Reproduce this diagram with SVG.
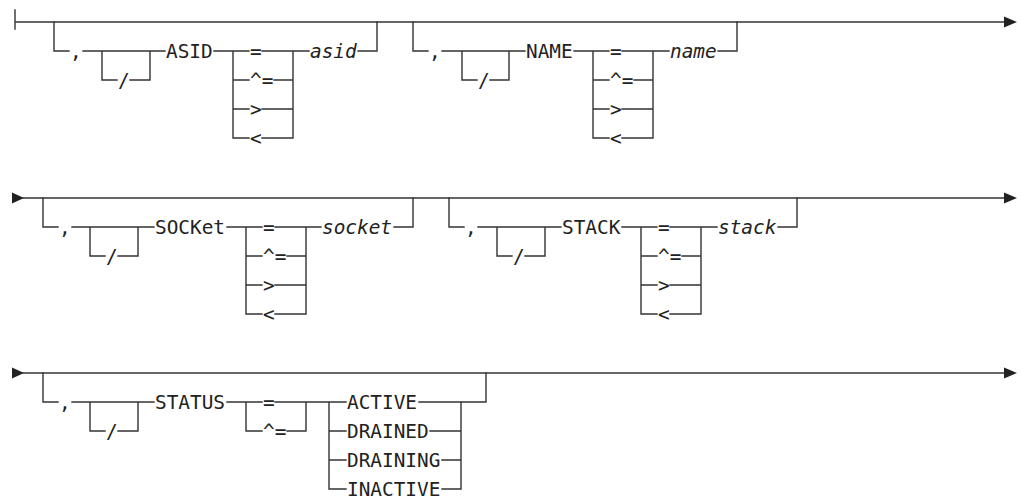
<svg xmlns="http://www.w3.org/2000/svg" width="1021" height="500" viewBox="0 0 1021 500">
<style>
.l{stroke:#333;stroke-width:1.4;fill:none;stroke-linecap:square}
.a{fill:#222;stroke:none}
text{font-family:"DejaVu Sans Mono","Liberation Mono",monospace;font-size:19.4px;fill:#222}
.i{font-style:italic}
</style>
<rect width="1021" height="500" fill="#fff"/>
<g id="connectors">
  <path class="l" d="M15 10V29M15 22H1006"/>
  <polygon class="a" points="1004,16.5 1017,22 1004,27.5"/>
  <polygon class="a" points="12,192.5 24,198 12,203.5"/>
  <path class="l" d="M23 198H1006"/>
  <polygon class="a" points="1004,192.5 1017,198 1004,203.5"/>
  <polygon class="a" points="12,367.5 24,373 12,378.5"/>
  <path class="l" d="M23 373H1006"/>
  <polygon class="a" points="1004,367.5 1017,373 1004,378.5"/>
</g>
<g id="asid">
  <path class="l" d="M54 22V51H69M83 51H165M102 51V80H117M130 80H150V51M214 51H249M233 51V138M262 51H293V138M233 80H249M274 80H293M233 109H249M262 109H293M233 138H249M262 138H293M293 51H309M358 51H377V22"/>
  <text x="70" y="58">,</text><text x="118" y="87">/</text>
  <text x="166" y="58">ASID</text>
  <text x="250" y="58">=</text><text x="250" y="87">^=</text><text x="250" y="116">&gt;</text><text x="250" y="145">&lt;</text>
  <text class="i" x="310" y="58">asid</text>
</g>
<g id="name">
  <path class="l" d="M413 22V51H428M442 51H525M462 51V80H477M490 80H509V51M574 51H609M593 51V138M622 51H653V138M593 80H609M634 80H653M593 109H609M622 109H653M593 138H609M622 138H653M653 51H669M718 51H737V22"/>
  <text x="429" y="58">,</text><text x="478" y="87">/</text>
  <text x="526" y="58">NAME</text>
  <text x="610" y="58">=</text><text x="610" y="87">^=</text><text x="610" y="116">&gt;</text><text x="610" y="145">&lt;</text>
  <text class="i" x="670" y="58">name</text>
</g>
<g id="socket">
  <path class="l" d="M43 198V227H58M72 227H154M90 227V256H105M118 256H138V227M227 227H262M246 227V314M275 227H306V314M246 256H262M287 256H306M246 285H262M275 285H306M246 314H262M275 314H306M306 227H321M394 227H413V198"/>
  <text x="59" y="234">,</text><text x="106" y="263">/</text>
  <text x="155" y="234">SOCKet</text>
  <text x="263" y="234">=</text><text x="263" y="263">^=</text><text x="263" y="292">&gt;</text><text x="263" y="321">&lt;</text>
  <text class="i" x="322" y="234">socket</text>
</g>
<g id="stack">
  <path class="l" d="M449 198V227H464M478 227H561M497 227V256H512M525 256H545V227M622 227H657M641 227V314M670 227H701V314M641 256H657M682 256H701M641 285H657M670 285H701M641 314H657M670 314H701M701 227H717M778 227H797V198"/>
  <text x="465" y="234">,</text><text x="513" y="263">/</text>
  <text x="562" y="234">STACK</text>
  <text x="658" y="234">=</text><text x="658" y="263">^=</text><text x="658" y="292">&gt;</text><text x="658" y="321">&lt;</text>
  <text class="i" x="718" y="234">stack</text>
</g>
<g id="status">
  <path class="l" d="M43 373V402H58M72 402H154M90 402V431H105M118 431H138V402M227 402H262M246 402V431H262M275 402H346M306 402V431H287M329 402V489M329 431H346M329 460H346M329 489H346M419 402H486V373M461 402V489M430 431H461M442 460H461M442 489H461"/>
  <text x="59" y="409">,</text><text x="106" y="438">/</text>
  <text x="155" y="409">STATUS</text>
  <text x="263" y="409">=</text><text x="263" y="438">^=</text>
  <text x="347" y="409">ACTIVE</text><text x="347" y="438">DRAINED</text><text x="347" y="467">DRAINING</text><text x="347" y="496">INACTIVE</text>
</g>
</svg>
